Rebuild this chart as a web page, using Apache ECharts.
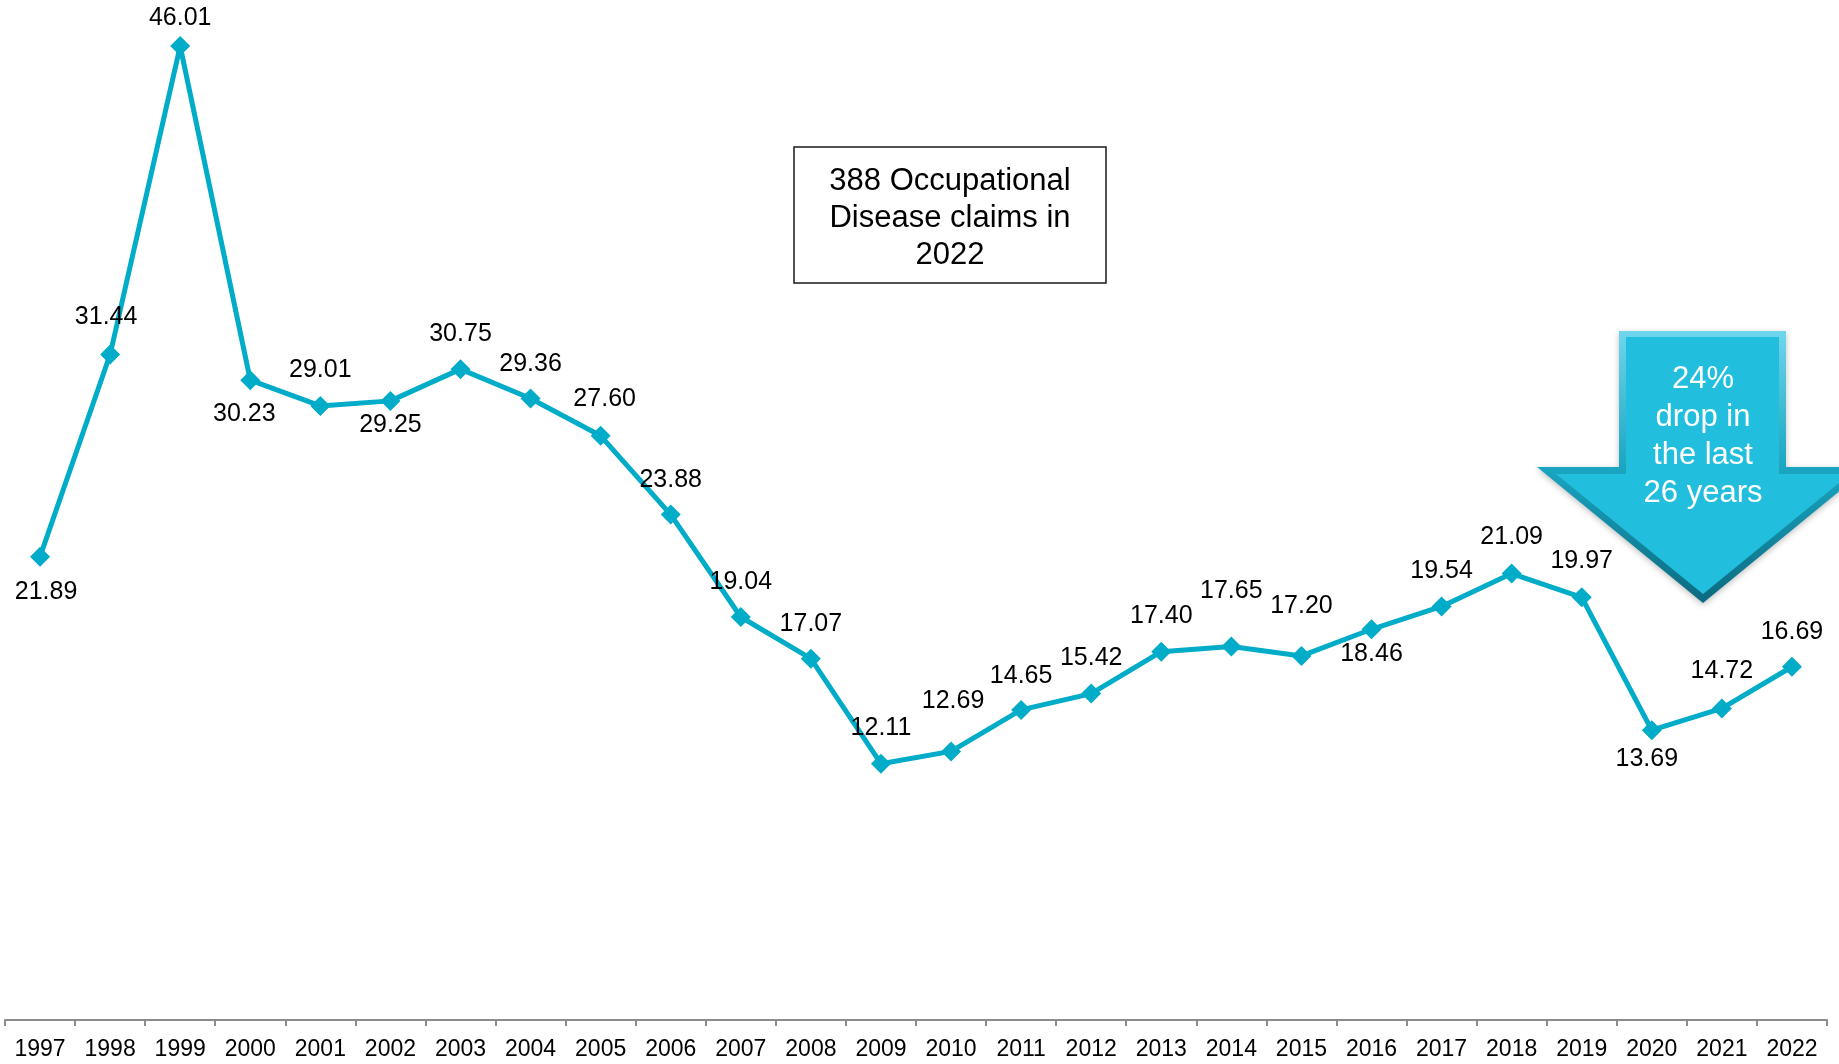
<!DOCTYPE html>
<html>
<head>
<meta charset="utf-8">
<title>Occupational Disease claims</title>
<script src="https://cdn.jsdelivr.net/npm/echarts@6/dist/echarts.min.js"></script>
<style>
  html, body { margin: 0; padding: 0; background: #fff; }
  #chart { width: 1839px; height: 1064px; }
</style>
</head>
<body>
<div id="chart"></div>
<script>
// categories (tick labels)
var years = ["1997", "1998", "1999", "2000", "2001", "2002", "2003", "2004", "2005",
  "2006", "2007", "2008", "2009", "2010", "2011", "2012", "2013", "2014", "2015",
  "2016", "2017", "2018", "2019", "2020", "2021", "2022"];

// series values
var claimRates = [21.89, 31.44, 46.01, 30.23, 29.01, 29.25, 30.75, 29.36, 27.60,
  23.88, 19.04, 17.07, 12.11, 12.69, 14.65, 15.42, 17.40, 17.65, 17.20,
  18.46, 19.54, 21.09, 19.97, 13.69, 14.72, 16.69];

// label placement (offset of the label centre from the point, px)
var labelOffsets = [[6, 35], [-4, -37], [0, -28], [-6, 34], [0, -36], [0, 24], [0, -35],
  [0, -34], [4, -37], [0, -34], [0, -35], [0, -35], [0, -36], [2, -50], [0, -34],
  [0, -36], [0, -36], [0, -55], [0, -50], [0, 25], [0, -35], [0, -36], [0, -36],
  [-5, 29], [0, -37], [0, -35]];

var fontFamily = "'Liberation Sans', Arial, sans-serif";
var lineColor = "#00ACC8";

var chart = echarts.init(document.getElementById("chart"));

var seriesData = claimRates.map(function (v, i) {
  return {
    value: v,
    label: { offset: labelOffsets[i] }
  };
});

var option = {
  animation: false,
  backgroundColor: "#fff",
  grid: { left: 5, right: 12, top: 4, bottom: 44 },
  xAxis: {
    type: "category",
    data: years,
    boundaryGap: true,
    axisLine: { show: true, lineStyle: { color: "#8c8c8c", width: 2 } },
    axisTick: { show: true, length: 6, lineStyle: { color: "#8c8c8c", width: 2 } },
    axisLabel: {
      interval: 0,
      margin: 18,
      color: "#000",
      fontSize: 23,
      fontFamily: fontFamily
    }
  },
  yAxis: {
    type: "value",
    min: 0,
    max: 48,
    show: false,
    splitLine: { show: false }
  },
  series: [
    {
      type: "line",
      data: seriesData,
      symbol: "diamond",
      symbolSize: 20,
      lineStyle: { color: lineColor, width: 5 },
      itemStyle: { color: lineColor },
      label: {
        show: true,
        position: "inside",
        align: "center",
        verticalAlign: "middle",
        color: "#000",
        fontSize: 25,
        fontFamily: fontFamily,
        formatter: function (p) { return p.value.toFixed(2); }
      }
    }
  ],
  graphic: [
    // text box
    {
      type: "rect",
      shape: { x: 794, y: 147, width: 312, height: 136 },
      style: { fill: "#fff", stroke: "#1a1a1a", lineWidth: 1.5 },
      z: 10
    },
    {
      type: "text",
      x: 950,
      y: 218,
      style: {
        text: "388 Occupational\nDisease claims in\n2022",
        fill: "#000",
        font: "31px " + fontFamily,
        align: "center",
        verticalAlign: "middle",
        lineHeight: 37
      },
      z: 11
    },
    // arrow (outer bevel)
    {
      type: "polygon",
      shape: {
        points: [[1619, 331], [1786, 331], [1786, 467], [1869, 467], [1703, 603],
          [1537, 467], [1619, 467]]
      },
      style: {
        fill: new echarts.graphic.LinearGradient(0, 0, 0, 1, [
          { offset: 0, color: "#6fd6ec" },
          { offset: 0.5, color: "#1aa6c2" },
          { offset: 1, color: "#0b6a80" }
        ]),
        shadowBlur: 6,
        shadowColor: "rgba(0,0,0,0.25)",
        shadowOffsetY: 2
      },
      z: 10
    },
    // arrow (face)
    {
      type: "polygon",
      shape: {
        points: [[1626, 337], [1779, 337], [1779, 474], [1850, 474], [1703, 594],
          [1556, 474], [1626, 474]]
      },
      style: { fill: "#22BEDD" },
      z: 11
    },
    {
      type: "text",
      x: 1703,
      y: 436,
      style: {
        text: "24%\ndrop in\nthe last\n26 years",
        fill: "#fff",
        font: "31px " + fontFamily,
        align: "center",
        verticalAlign: "middle",
        lineHeight: 38
      },
      z: 12
    }
  ]
};

chart.setOption(option);
</script>
</body>
</html>
